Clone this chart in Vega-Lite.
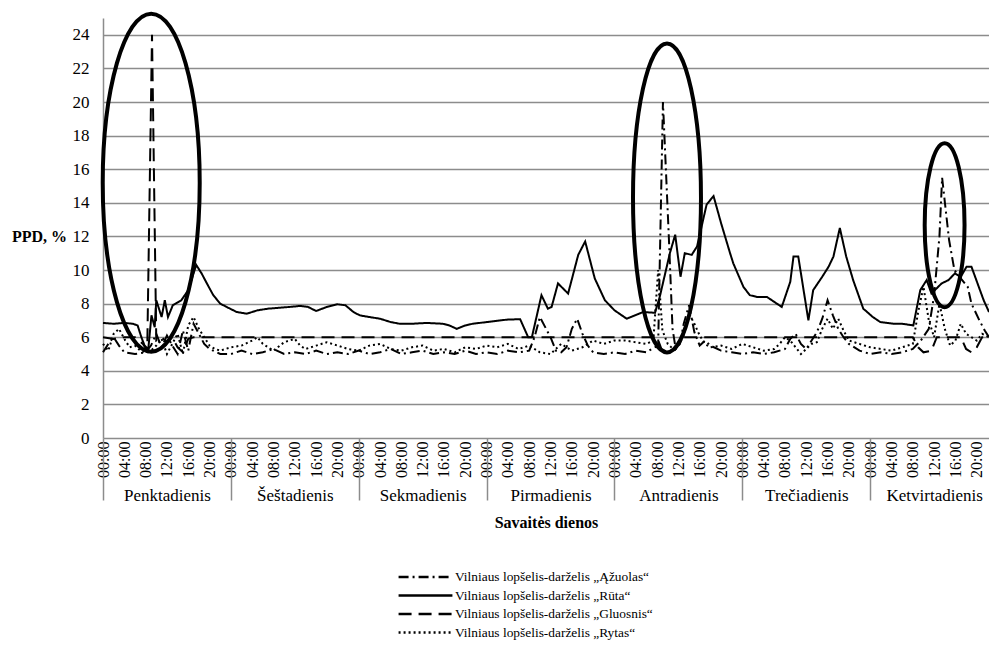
{
  "$schema": "https://vega.github.io/schema/vega-lite/v6.json",
  "width": 886,
  "height": 420,
  "autosize": "none",
  "padding": {"left": 103, "top": 18, "right": 0, "bottom": 211},
  "background": "white",
  "config": {
    "view": {"stroke": null},
    "font": "Liberation Serif",
    "axis": {"labelFont": "Liberation Serif", "titleFont": "Liberation Serif", "labelColor": "black", "titleColor": "black"}
  },
  "datasets": {
    "ppd": [
      {"s":"Rūta","h":0,"v":6.85},{"s":"Rūta","h":2,"v":6.8},{"s":"Rūta","h":4,"v":6.85},{"s":"Rūta","h":5.6,"v":6.8},{"s":"Rūta","h":6.5,"v":6.7},{"s":"Rūta","h":7.2,"v":6.0},{"s":"Rūta","h":7.8,"v":5.5},{"s":"Rūta","h":8.5,"v":5.3},{"s":"Rūta","h":9.1,"v":7.3},{"s":"Rūta","h":9.7,"v":6.6},{"s":"Rūta","h":10.0,"v":8.2},{"s":"Rūta","h":11.0,"v":7.2},{"s":"Rūta","h":11.6,"v":8.2},{"s":"Rūta","h":12.2,"v":7.2},{"s":"Rūta","h":13.1,"v":7.9},{"s":"Rūta","h":14.7,"v":8.2},{"s":"Rūta","h":16,"v":8.8},{"s":"Rūta","h":17.5,"v":10.3},{"s":"Rūta","h":18.5,"v":9.8},{"s":"Rūta","h":19.5,"v":9.2},{"s":"Rūta","h":20.7,"v":8.5},{"s":"Rūta","h":22,"v":8.0},{"s":"Rūta","h":23.2,"v":7.8},{"s":"Rūta","h":25.1,"v":7.5},{"s":"Rūta","h":27,"v":7.4},{"s":"Rūta","h":29,"v":7.6},{"s":"Rūta","h":31,"v":7.7},{"s":"Rūta","h":33,"v":7.75},{"s":"Rūta","h":35,"v":7.8},{"s":"Rūta","h":37,"v":7.86},{"s":"Rūta","h":38.5,"v":7.8},{"s":"Rūta","h":40,"v":7.56},{"s":"Rūta","h":42,"v":7.8},{"s":"Rūta","h":44,"v":7.96},{"s":"Rūta","h":45.5,"v":7.9},{"s":"Rūta","h":47,"v":7.5},{"s":"Rūta","h":48.2,"v":7.3},{"s":"Rūta","h":50,"v":7.2},{"s":"Rūta","h":52,"v":7.1},{"s":"Rūta","h":54,"v":6.9},{"s":"Rūta","h":55.7,"v":6.8},{"s":"Rūta","h":58,"v":6.8},{"s":"Rūta","h":60.8,"v":6.85},{"s":"Rūta","h":63.8,"v":6.8},{"s":"Rūta","h":65,"v":6.7},{"s":"Rūta","h":66.4,"v":6.5},{"s":"Rūta","h":68,"v":6.7},{"s":"Rūta","h":69.4,"v":6.8},{"s":"Rūta","h":72,"v":6.9},{"s":"Rūta","h":74.5,"v":7.0},{"s":"Rūta","h":76,"v":7.05},{"s":"Rūta","h":78.3,"v":7.07},{"s":"Rūta","h":79.8,"v":6.0},{"s":"Rūta","h":80.5,"v":6.0},{"s":"Rūta","h":82.3,"v":8.5},{"s":"Rūta","h":83.5,"v":7.7},{"s":"Rūta","h":84.2,"v":7.8},{"s":"Rūta","h":85.4,"v":9.2},{"s":"Rūta","h":87.3,"v":8.6},{"s":"Rūta","h":89.2,"v":10.9},{"s":"Rūta","h":90.5,"v":11.7},{"s":"Rūta","h":92.3,"v":9.5},{"s":"Rūta","h":94.2,"v":8.2},{"s":"Rūta","h":96,"v":7.6},{"s":"Rūta","h":98.3,"v":7.1},{"s":"Rūta","h":101.4,"v":7.5},{"s":"Rūta","h":103.6,"v":7.45},{"s":"Rūta","h":104.5,"v":8.4},{"s":"Rūta","h":106.4,"v":11.0},{"s":"Rūta","h":107.4,"v":12.1},{"s":"Rūta","h":108.4,"v":9.6},{"s":"Rūta","h":109.2,"v":11.0},{"s":"Rūta","h":110.5,"v":10.9},{"s":"Rūta","h":111.5,"v":11.4},{"s":"Rūta","h":113.3,"v":13.9},{"s":"Rūta","h":114.6,"v":14.4},{"s":"Rūta","h":116,"v":12.8},{"s":"Rūta","h":117.7,"v":11.0},{"s":"Rūta","h":118.3,"v":10.4},{"s":"Rūta","h":120.2,"v":9.0},{"s":"Rūta","h":121.4,"v":8.5},{"s":"Rūta","h":122.7,"v":8.4},{"s":"Rūta","h":124.6,"v":8.4},{"s":"Rūta","h":126,"v":8.1},{"s":"Rūta","h":127.4,"v":7.8},{"s":"Rūta","h":129.0,"v":9.3},{"s":"Rūta","h":129.6,"v":10.8},{"s":"Rūta","h":130.5,"v":10.8},{"s":"Rūta","h":132.4,"v":7.0},{"s":"Rūta","h":133.3,"v":8.8},{"s":"Rūta","h":135,"v":9.6},{"s":"Rūta","h":136.2,"v":10.2},{"s":"Rūta","h":137.1,"v":10.8},{"s":"Rūta","h":138.3,"v":12.5},{"s":"Rūta","h":139.5,"v":10.8},{"s":"Rūta","h":140.8,"v":9.4},{"s":"Rūta","h":142.7,"v":7.7},{"s":"Rūta","h":144.5,"v":7.2},{"s":"Rūta","h":145.9,"v":6.9},{"s":"Rūta","h":148.4,"v":6.8},{"s":"Rūta","h":150,"v":6.8},{"s":"Rūta","h":152.1,"v":6.7},{"s":"Rūta","h":153.4,"v":8.8},{"s":"Rūta","h":154.6,"v":9.4},{"s":"Rūta","h":155.5,"v":8.6},{"s":"Rūta","h":157.4,"v":9.2},{"s":"Rūta","h":158.7,"v":9.4},{"s":"Rūta","h":159.9,"v":9.8},{"s":"Rūta","h":161,"v":9.6},{"s":"Rūta","h":162.1,"v":10.2},{"s":"Rūta","h":163,"v":10.2},{"s":"Rūta","h":165.3,"v":8.2},{"s":"Rūta","h":166.3,"v":7.5},

      {"s":"Ąžuolas","h":0,"v":5.1},{"s":"Ąžuolas","h":1,"v":5.6},{"s":"Ąžuolas","h":2,"v":6.0},{"s":"Ąžuolas","h":3,"v":5.5},{"s":"Ąžuolas","h":4,"v":5.1},{"s":"Ąžuolas","h":6,"v":5.0},{"s":"Ąžuolas","h":8,"v":5.1},{"s":"Ąžuolas","h":9,"v":5.5},{"s":"Ąžuolas","h":10,"v":6.2},{"s":"Ąžuolas","h":11,"v":5.4},{"s":"Ąžuolas","h":12,"v":6.1},{"s":"Ąžuolas","h":13,"v":5.5},{"s":"Ąžuolas","h":14,"v":5.0},{"s":"Ąžuolas","h":15,"v":6.4},{"s":"Ąžuolas","h":16,"v":5.2},{"s":"Ąžuolas","h":17,"v":6.8},{"s":"Ąžuolas","h":18,"v":6.2},{"s":"Ąžuolas","h":19,"v":5.6},{"s":"Ąžuolas","h":20,"v":5.3},{"s":"Ąžuolas","h":22,"v":5.0},{"s":"Ąžuolas","h":24,"v":5.0},{"s":"Ąžuolas","h":26,"v":5.2},{"s":"Ąžuolas","h":28,"v":5.0},{"s":"Ąžuolas","h":30,"v":5.1},{"s":"Ąžuolas","h":32,"v":5.3},{"s":"Ąžuolas","h":34,"v":5.0},{"s":"Ąžuolas","h":36,"v":5.1},{"s":"Ąžuolas","h":38,"v":5.0},{"s":"Ąžuolas","h":40,"v":5.2},{"s":"Ąžuolas","h":42,"v":5.0},{"s":"Ąžuolas","h":44,"v":5.1},{"s":"Ąžuolas","h":46,"v":5.0},{"s":"Ąžuolas","h":48,"v":5.2},{"s":"Ąžuolas","h":50,"v":5.0},{"s":"Ąžuolas","h":52,"v":5.1},{"s":"Ąžuolas","h":54,"v":5.3},{"s":"Ąžuolas","h":56,"v":5.0},{"s":"Ąžuolas","h":58,"v":5.1},{"s":"Ąžuolas","h":60,"v":5.2},{"s":"Ąžuolas","h":62,"v":5.0},{"s":"Ąžuolas","h":64,"v":5.1},{"s":"Ąžuolas","h":66,"v":5.0},{"s":"Ąžuolas","h":68,"v":5.2},{"s":"Ąžuolas","h":70,"v":5.0},{"s":"Ąžuolas","h":72,"v":5.1},{"s":"Ąžuolas","h":74,"v":5.0},{"s":"Ąžuolas","h":76,"v":5.2},{"s":"Ąžuolas","h":78,"v":5.1},{"s":"Ąžuolas","h":80,"v":5.2},{"s":"Ąžuolas","h":81,"v":6.0},{"s":"Ąžuolas","h":82,"v":7.2},{"s":"Ąžuolas","h":83,"v":6.6},{"s":"Ąžuolas","h":84,"v":6.0},{"s":"Ąžuolas","h":85,"v":5.2},{"s":"Ąžuolas","h":86,"v":5.1},{"s":"Ąžuolas","h":87,"v":5.4},{"s":"Ąžuolas","h":88,"v":6.5},{"s":"Ąžuolas","h":89,"v":7.1},{"s":"Ąžuolas","h":90,"v":6.2},{"s":"Ąžuolas","h":91,"v":5.5},{"s":"Ąžuolas","h":92,"v":5.1},{"s":"Ąžuolas","h":94,"v":5.0},{"s":"Ąžuolas","h":96,"v":5.1},{"s":"Ąžuolas","h":98,"v":5.0},{"s":"Ąžuolas","h":100,"v":5.2},{"s":"Ąžuolas","h":102,"v":5.1},{"s":"Ąžuolas","h":103,"v":5.3},{"s":"Ąžuolas","h":104.2,"v":5.5},{"s":"Ąžuolas","h":105.1,"v":20.0},{"s":"Ąžuolas","h":106.2,"v":12.0},{"s":"Ąžuolas","h":106.9,"v":6.5},{"s":"Ąžuolas","h":107.5,"v":5.3},{"s":"Ąžuolas","h":108.3,"v":5.6},{"s":"Ąžuolas","h":109,"v":6.8},{"s":"Ąžuolas","h":110,"v":7.9},{"s":"Ąžuolas","h":111,"v":6.3},{"s":"Ąžuolas","h":112,"v":5.5},{"s":"Ąžuolas","h":113,"v":5.8},{"s":"Ąžuolas","h":114,"v":5.5},{"s":"Ąžuolas","h":116,"v":5.2},{"s":"Ąžuolas","h":118,"v":5.1},{"s":"Ąžuolas","h":120,"v":5.0},{"s":"Ąžuolas","h":122,"v":5.1},{"s":"Ąžuolas","h":124,"v":5.0},{"s":"Ąžuolas","h":126,"v":5.1},{"s":"Ąžuolas","h":128,"v":5.3},{"s":"Ąžuolas","h":129,"v":5.9},{"s":"Ąžuolas","h":130,"v":6.2},{"s":"Ąžuolas","h":131,"v":5.6},{"s":"Ąžuolas","h":132,"v":5.3},{"s":"Ąžuolas","h":133,"v":5.8},{"s":"Ąžuolas","h":134,"v":6.3},{"s":"Ąžuolas","h":135,"v":7.1},{"s":"Ąžuolas","h":136,"v":8.2},{"s":"Ąžuolas","h":137,"v":7.3},{"s":"Ąžuolas","h":138,"v":6.5},{"s":"Ąžuolas","h":139,"v":6.0},{"s":"Ąžuolas","h":140,"v":5.6},{"s":"Ąžuolas","h":142,"v":5.2},{"s":"Ąžuolas","h":144,"v":5.0},{"s":"Ąžuolas","h":146,"v":5.1},{"s":"Ąžuolas","h":148,"v":5.0},{"s":"Ąžuolas","h":150,"v":5.1},{"s":"Ąžuolas","h":152,"v":5.3},{"s":"Ąžuolas","h":153.5,"v":5.8},{"s":"Ąžuolas","h":155,"v":6.5},{"s":"Ąžuolas","h":156,"v":8.5},{"s":"Ąžuolas","h":157,"v":12.0},{"s":"Ąžuolas","h":157.5,"v":15.5},{"s":"Ąžuolas","h":158.8,"v":11.8},{"s":"Ąžuolas","h":159.8,"v":10.0},{"s":"Ąžuolas","h":161,"v":9.5},{"s":"Ąžuolas","h":162.3,"v":9.0},{"s":"Ąžuolas","h":163,"v":8.0},{"s":"Ąžuolas","h":164.5,"v":7.0},{"s":"Ąžuolas","h":165.5,"v":6.4},{"s":"Ąžuolas","h":166.3,"v":6.0},

      {"s":"Gluosnis","h":0,"v":6.0},{"s":"Gluosnis","h":2,"v":5.9},{"s":"Gluosnis","h":4,"v":6.0},{"s":"Gluosnis","h":6,"v":6.0},{"s":"Gluosnis","h":7.5,"v":5.6},{"s":"Gluosnis","h":8.3,"v":5.2},{"s":"Gluosnis","h":9.2,"v":24.0},{"s":"Gluosnis","h":10.0,"v":5.8},{"s":"Gluosnis","h":11,"v":6.0},{"s":"Gluosnis","h":12,"v":5.7},{"s":"Gluosnis","h":13,"v":6.0},{"s":"Gluosnis","h":14,"v":5.4},{"s":"Gluosnis","h":15,"v":5.1},{"s":"Gluosnis","h":16,"v":5.9},{"s":"Gluosnis","h":17,"v":6.0},{"s":"Gluosnis","h":24,"v":6.0},{"s":"Gluosnis","h":48,"v":6.0},{"s":"Gluosnis","h":72,"v":6.0},{"s":"Gluosnis","h":96,"v":6.0},{"s":"Gluosnis","h":104,"v":6.0},{"s":"Gluosnis","h":104.8,"v":5.3},{"s":"Gluosnis","h":106,"v":5.1},{"s":"Gluosnis","h":107.5,"v":5.3},{"s":"Gluosnis","h":108.5,"v":6.0},{"s":"Gluosnis","h":120,"v":6.0},{"s":"Gluosnis","h":144,"v":6.0},{"s":"Gluosnis","h":152,"v":6.0},{"s":"Gluosnis","h":153,"v":5.4},{"s":"Gluosnis","h":154,"v":5.1},{"s":"Gluosnis","h":155.5,"v":5.2},{"s":"Gluosnis","h":156.5,"v":6.0},{"s":"Gluosnis","h":161,"v":6.0},{"s":"Gluosnis","h":162,"v":5.3},{"s":"Gluosnis","h":163,"v":5.1},{"s":"Gluosnis","h":164,"v":5.4},{"s":"Gluosnis","h":165,"v":6.0},{"s":"Gluosnis","h":166.3,"v":6.0},

      {"s":"Rytas","h":0,"v":5.6},{"s":"Rytas","h":1,"v":5.2},{"s":"Rytas","h":2,"v":6.2},{"s":"Rytas","h":3,"v":6.5},{"s":"Rytas","h":4,"v":5.9},{"s":"Rytas","h":5,"v":5.4},{"s":"Rytas","h":6,"v":5.5},{"s":"Rytas","h":7,"v":5.2},{"s":"Rytas","h":8,"v":5.1},{"s":"Rytas","h":9,"v":5.2},{"s":"Rytas","h":10,"v":5.5},{"s":"Rytas","h":11,"v":5.9},{"s":"Rytas","h":12,"v":5.0},{"s":"Rytas","h":13,"v":5.6},{"s":"Rytas","h":14,"v":6.2},{"s":"Rytas","h":15,"v":5.0},{"s":"Rytas","h":16,"v":6.7},{"s":"Rytas","h":17,"v":7.2},{"s":"Rytas","h":18,"v":6.5},{"s":"Rytas","h":19,"v":6.0},{"s":"Rytas","h":20,"v":5.5},{"s":"Rytas","h":21,"v":5.3},{"s":"Rytas","h":22,"v":5.2},{"s":"Rytas","h":24,"v":5.4},{"s":"Rytas","h":26,"v":5.5},{"s":"Rytas","h":28,"v":5.8},{"s":"Rytas","h":29,"v":6.0},{"s":"Rytas","h":30,"v":5.6},{"s":"Rytas","h":32,"v":5.2},{"s":"Rytas","h":34,"v":5.7},{"s":"Rytas","h":36,"v":5.9},{"s":"Rytas","h":37,"v":5.5},{"s":"Rytas","h":38,"v":5.3},{"s":"Rytas","h":40,"v":5.5},{"s":"Rytas","h":42,"v":5.7},{"s":"Rytas","h":44,"v":5.5},{"s":"Rytas","h":46,"v":5.3},{"s":"Rytas","h":48,"v":5.2},{"s":"Rytas","h":50,"v":5.5},{"s":"Rytas","h":52,"v":5.6},{"s":"Rytas","h":54,"v":5.3},{"s":"Rytas","h":56,"v":5.2},{"s":"Rytas","h":58,"v":5.4},{"s":"Rytas","h":60,"v":5.5},{"s":"Rytas","h":62,"v":5.2},{"s":"Rytas","h":64,"v":5.3},{"s":"Rytas","h":66,"v":5.1},{"s":"Rytas","h":68,"v":5.4},{"s":"Rytas","h":70,"v":5.3},{"s":"Rytas","h":72,"v":5.5},{"s":"Rytas","h":74,"v":5.4},{"s":"Rytas","h":76,"v":5.6},{"s":"Rytas","h":78,"v":5.3},{"s":"Rytas","h":80,"v":5.5},{"s":"Rytas","h":82,"v":5.1},{"s":"Rytas","h":84,"v":5.0},{"s":"Rytas","h":86,"v":5.6},{"s":"Rytas","h":88,"v":5.2},{"s":"Rytas","h":90,"v":5.4},{"s":"Rytas","h":92,"v":5.8},{"s":"Rytas","h":94,"v":5.6},{"s":"Rytas","h":96,"v":5.8},{"s":"Rytas","h":98,"v":5.8},{"s":"Rytas","h":100,"v":5.7},{"s":"Rytas","h":102,"v":5.6},{"s":"Rytas","h":103.3,"v":5.8},{"s":"Rytas","h":104.2,"v":10.0},{"s":"Rytas","h":105,"v":6.4},{"s":"Rytas","h":106,"v":5.6},{"s":"Rytas","h":107,"v":5.3},{"s":"Rytas","h":108,"v":5.5},{"s":"Rytas","h":109,"v":6.1},{"s":"Rytas","h":110,"v":7.4},{"s":"Rytas","h":111,"v":6.8},{"s":"Rytas","h":112,"v":6.1},{"s":"Rytas","h":113,"v":5.6},{"s":"Rytas","h":114,"v":5.4},{"s":"Rytas","h":116,"v":5.5},{"s":"Rytas","h":118,"v":5.3},{"s":"Rytas","h":120,"v":5.6},{"s":"Rytas","h":122,"v":5.4},{"s":"Rytas","h":124,"v":5.2},{"s":"Rytas","h":126,"v":5.3},{"s":"Rytas","h":127,"v":5.6},{"s":"Rytas","h":128,"v":6.0},{"s":"Rytas","h":129,"v":5.8},{"s":"Rytas","h":130,"v":5.4},{"s":"Rytas","h":131,"v":5.0},{"s":"Rytas","h":132,"v":5.3},{"s":"Rytas","h":133,"v":5.6},{"s":"Rytas","h":134,"v":5.7},{"s":"Rytas","h":135,"v":6.5},{"s":"Rytas","h":136,"v":7.1},{"s":"Rytas","h":137,"v":6.5},{"s":"Rytas","h":138,"v":7.1},{"s":"Rytas","h":139,"v":6.4},{"s":"Rytas","h":140,"v":5.8},{"s":"Rytas","h":142,"v":5.6},{"s":"Rytas","h":144,"v":5.4},{"s":"Rytas","h":146,"v":5.3},{"s":"Rytas","h":148,"v":5.2},{"s":"Rytas","h":150,"v":5.4},{"s":"Rytas","h":152,"v":5.6},{"s":"Rytas","h":153,"v":7.5},{"s":"Rytas","h":154,"v":9.0},{"s":"Rytas","h":155,"v":7.0},{"s":"Rytas","h":156,"v":6.0},{"s":"Rytas","h":157,"v":8.0},{"s":"Rytas","h":158,"v":6.5},{"s":"Rytas","h":159,"v":5.5},{"s":"Rytas","h":160,"v":5.8},{"s":"Rytas","h":161,"v":6.8},{"s":"Rytas","h":162,"v":6.2},{"s":"Rytas","h":163,"v":6.0},{"s":"Rytas","h":164,"v":5.8},{"s":"Rytas","h":165,"v":6.2},{"s":"Rytas","h":166.3,"v":6.0}
    ],
    "days": [
      {"h":0,"day":"Penktadienis"},{"h":24,"day":"Šeštadienis"},{"h":48,"day":"Sekmadienis"},{"h":72,"day":"Pirmadienis"},{"h":96,"day":"Antradienis"},{"h":120,"day":"Trečiadienis"},{"h":144,"day":"Ketvirtadienis"}
    ]
  },
  "resolve": {"axis": {"x": "independent", "y": "independent"}},
  "layer": [
    {
      "data": {"name": "ppd"},
      "mark": {"type": "line", "strokeWidth": 2, "color": "black"},
      "encoding": {
        "x": {"field": "h", "type": "quantitative",
          "scale": {"domain": [0, 166.3], "nice": false, "zero": false},
          "axis": {"orient": "bottom", "values": [0,4,8,12,16,20,24,28,32,36,40,44,48,52,56,60,64,68,72,76,80,84,88,92,96,100,104,108,112,116,120,124,128,132,136,140,144,148,152,156,160,164],
            "labelExpr": "(datum.value % 24 < 10 ? '0' : '') + (datum.value % 24) + ':00'",
            "labelAngle": 270, "labelFontSize": 16, "labelPadding": 3, "ticks": false, "domain": false, "grid": false,
            "labelOverlap": false, "labelFlush": false, "title": null}},
        "y": {"field": "v", "type": "quantitative",
          "scale": {"domain": [0, 25], "nice": false},
          "axis": {"orient": "left", "values": [0,2,4,6,8,10,12,14,16,18,20,22,24], "grid": true, "gridColor": "#8c8c8c", "gridWidth": 1.5,
            "labelOverlap": false, "labelFlush": false,
            "ticks": false, "domain": true, "domainColor": "#8c8c8c", "domainWidth": 1.5, "labelFontSize": 17, "labelPadding": 14,
            "title": "PPD, %", "titleAngle": 0, "titleFontSize": 16, "titleFontWeight": "bold", "titleX": -64, "titleY": 218,
            "titleAlign": "center", "titleBaseline": "middle"}},
        "strokeDash": {"field": "s", "type": "nominal",
          "scale": {"domain": ["Ąžuolas", "Rūta", "Gluosnis", "Rytas"], "range": [[10,4,2,4],[1,0],[13,7],[2,3]]},
          "legend": {"orient": "none", "legendX": 294, "legendY": 550, "direction": "vertical", "title": null,
            "symbolType": "stroke", "symbolSize": 2900, "symbolStrokeWidth": 2.5, "symbolStrokeColor": "black",
            "labelFont": "Liberation Serif", "labelFontSize": 13.4, "labelColor": "black", "labelOffset": 1, "labelLimit": 0,
            "clipHeight": 18, "rowPadding": 0.5, "padding": 0,
            "labelExpr": "'Vilniaus lopšelis-darželis „' + datum.label + '“'"}}
      }
    },
    {
      "data": {"name": "days"},
      "mark": {"type": "point", "opacity": 0},
      "encoding": {
        "x": {"field": "h", "type": "quantitative",
          "scale": {"domain": [0, 166.3], "nice": false, "zero": false},
          "axis": {"orient": "bottom", "values": [0,24,48,72,96,120,144], "tickSize": 62, "tickColor": "#8c8c8c", "tickWidth": 1.5,
            "domain": false, "grid": false,
            "labelExpr": "['Penktadienis','Šeštadienis','Sekmadienis','Pirmadienis','Antradienis','Trečiadienis','Ketvirtadienis'][round(datum.value/24)]",
            "labelOffset": 64, "labelPadding": -13, "labelFontSize": 17, "labelBaseline": "top", "labelAlign": "center",
            "labelFlush": false, "labelOverlap": false,
            "title": "Savaitės dienos", "titleFontSize": 16, "titleFontWeight": "bold", "titleY": 84, "titleBaseline": "middle", "titlePadding": 0}}
      }
    },
    {
      "data": {"values": [{"h": 9.05, "v": 15.2}]},
      "mark": {"type": "point", "filled": false, "stroke": "black", "strokeWidth": 4, "opacity": 1, "size": 114244,
        "shape": "M0,-1 C0.1585,-1 0.287,-0.5523 0.287,0 C0.287,0.5523 0.1585,1 0,1 C-0.1585,1 -0.287,0.5523 -0.287,0 C-0.287,-0.5523 -0.1585,-1 0,-1 Z"},
      "encoding": {
        "x": {"field": "h", "type": "quantitative", "axis": null},
        "y": {"field": "v", "type": "quantitative", "axis": null}
      }
    },
    {
      "data": {"values": [{"h": 105.86, "v": 14.29}]},
      "mark": {"type": "point", "filled": false, "stroke": "black", "strokeWidth": 4, "opacity": 1, "size": 95481,
        "shape": "M0,-1 C0.1215,-1 0.22,-0.5523 0.22,0 C0.22,0.5523 0.1215,1 0,1 C-0.1215,1 -0.22,0.5523 -0.22,0 C-0.22,-0.5523 -0.1215,-1 0,-1 Z"},
      "encoding": {
        "x": {"field": "h", "type": "quantitative", "axis": null},
        "y": {"field": "v", "type": "quantitative", "axis": null}
      }
    },
    {
      "data": {"values": [{"h": 157.97, "v": 12.67}]},
      "mark": {"type": "point", "filled": false, "stroke": "black", "strokeWidth": 4, "opacity": 1, "size": 26896,
        "shape": "M0,-1 C0.1342,-1 0.243,-0.5523 0.243,0 C0.243,0.5523 0.1342,1 0,1 C-0.1342,1 -0.243,0.5523 -0.243,0 C-0.243,-0.5523 -0.1342,-1 0,-1 Z"},
      "encoding": {
        "x": {"field": "h", "type": "quantitative", "axis": null},
        "y": {"field": "v", "type": "quantitative", "axis": null}
      }
    }
  ]
}
